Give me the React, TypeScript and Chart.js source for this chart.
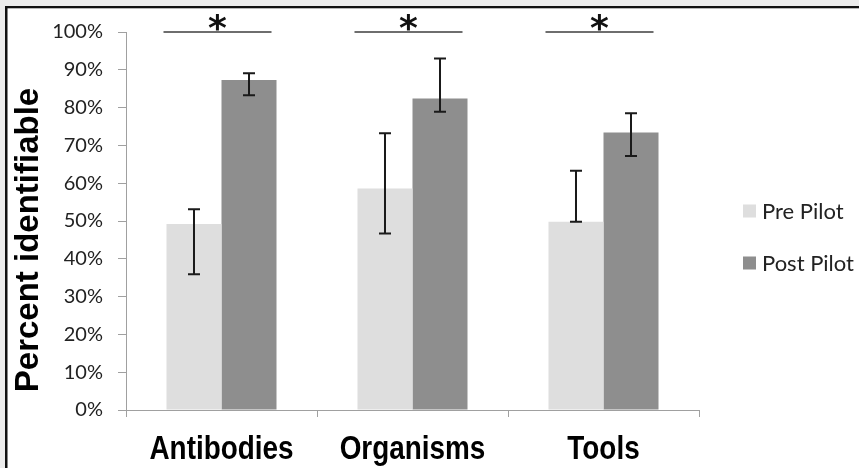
import React, { useEffect, useRef } from "react";
import { Chart, registerables } from "chart.js";

Chart.register(...registerables);

const categories = ["Antibodies", "Organisms", "Tools"];
const seriesNames = ["Pre Pilot", "Post Pilot"];
const prePilot = [49.2, 58.6, 49.8];
const postPilot = [87.3, 82.4, 73.4];
const preLow = [35.9, 46.7, 49.8];
const preHigh = [53.1, 73.2, 63.3];
const postLow = [83.3, 78.9, 67.2];
const postHigh = [89.1, 93.0, 78.5];
const significant = [true, true, true];
const yAxisTitle = "Percent identifiable";
const yTickMax = 100;
const yTickStep = 10;

const preColor = "#dedede";
const postColor = "#8e8e8e";

const errorRanges = [
  { low: preLow, high: preHigh },
  { low: postLow, high: postHigh },
];

const backgroundPlugin = {
  id: "frameBg",
  beforeDraw(chart: any) {
    const { ctx, width, height } = chart;
    ctx.save();
    ctx.fillStyle = "#ececec";
    ctx.fillRect(0, 0, width, height);
    ctx.fillStyle = "#ffffff";
    ctx.fillRect(5, 6, width - 5, height - 6);
    ctx.fillStyle = "#111111";
    ctx.fillRect(5, 6, 2.5, height - 6);
    ctx.fillRect(5, 6, width - 5, 2.3);
    ctx.restore();
  },
};

const errorBarPlugin = {
  id: "errorBars",
  afterDatasetsDraw(chart: any) {
    const { ctx } = chart;
    const yScale = chart.scales.y;
    ctx.save();
    ctx.strokeStyle = "#1a1a1a";
    ctx.lineWidth = 2;
    chart.data.datasets.forEach((_: any, di: number) => {
      const meta = chart.getDatasetMeta(di);
      const rng = errorRanges[di];
      meta.data.forEach((bar: any, i: number) => {
        const x = bar.x;
        const yl = yScale.getPixelForValue(rng.low[i]);
        const yh = yScale.getPixelForValue(rng.high[i]);
        const cap = 6;
        ctx.beginPath();
        ctx.moveTo(x, yl);
        ctx.lineTo(x, yh);
        ctx.moveTo(x - cap, yl);
        ctx.lineTo(x + cap, yl);
        ctx.moveTo(x - cap, yh);
        ctx.lineTo(x + cap, yh);
        ctx.stroke();
      });
    });
    ctx.restore();
  },
};

const significancePlugin = {
  id: "significance",
  afterDraw(chart: any) {
    const { ctx } = chart;
    const yScale = chart.scales.y;
    const m0 = chart.getDatasetMeta(0);
    const m1 = chart.getDatasetMeta(1);
    const y = yScale.getPixelForValue(yTickMax);
    ctx.save();
    significant.forEach((sig, i) => {
      if (!sig) return;
      const b0 = m0.data[i];
      const b1 = m1.data[i];
      const left = b0.x - b0.width / 2 - 3;
      const right = b1.x + b1.width / 2 - 5;
      ctx.strokeStyle = "#6e6e6e";
      ctx.lineWidth = 2;
      ctx.beginPath();
      ctx.moveTo(left, y);
      ctx.lineTo(right, y);
      ctx.stroke();
      ctx.fillStyle = "#111111";
      ctx.font = "bold 36px 'DejaVu Sans'";
      ctx.textAlign = "center";
      ctx.textBaseline = "alphabetic";
      ctx.fillText("*", (left + right) / 2, y + 8);
    });
    ctx.restore();
  },
};

const labelsPlugin = {
  id: "narrowLabels",
  afterDraw(chart: any) {
    const { ctx } = chart;
    const xScale = chart.scales.x;
    ctx.save();
    ctx.fillStyle = "#000000";
    ctx.font = "bold 34px 'Liberation Sans', Arial, sans-serif";
    ctx.textAlign = "center";
    ctx.textBaseline = "alphabetic";
    (chart.data.labels as string[]).forEach((lab, i) => {
      const x = xScale.getPixelForValue(i);
      ctx.save();
      ctx.translate(x, 459);
      ctx.scale(0.82, 1);
      ctx.fillText(lab, 0, 0);
      ctx.restore();
    });
    // y axis title
    ctx.save();
    ctx.font = "bold 33px 'Liberation Sans', Arial, sans-serif";
    ctx.translate(38, 240);
    ctx.rotate(-Math.PI / 2);
    ctx.fillText(yAxisTitle, 0, 0);
    ctx.restore();
    ctx.restore();
  },
};

const legendPlugin = {
  id: "sideLegend",
  afterDraw(chart: any) {
    const { ctx, chartArea } = chart;
    ctx.save();
    chart.data.datasets.forEach((ds: any, i: number) => {
      const x = chartArea.right + 44;
      const cy = 211 + i * 52;
      ctx.fillStyle = ds.backgroundColor;
      ctx.fillRect(x, cy - 6.5, 13, 13);
      ctx.fillStyle = "#222222";
      ctx.font = "22px Lato";
      ctx.textAlign = "left";
      ctx.textBaseline = "middle";
      ctx.fillText(ds.label, x + 19, cy + 1);
    });
    ctx.restore();
  },
};

export default function App() {
  const canvasRef = useRef<HTMLCanvasElement | null>(null);

  useEffect(() => {
    if (!canvasRef.current) return;
    const chart = new Chart(canvasRef.current, {
      type: "bar",
      data: {
        labels: categories,
        datasets: [
          {
            label: seriesNames[0],
            data: prePilot,
            backgroundColor: preColor,
            borderWidth: 0,
            barPercentage: 1,
            categoryPercentage: 0.576,
          },
          {
            label: seriesNames[1],
            data: postPilot,
            backgroundColor: postColor,
            borderWidth: 0,
            barPercentage: 1,
            categoryPercentage: 0.576,
          },
        ],
      },
      options: {
        responsive: false,
        animation: false,
        events: [],
        layout: { padding: { top: 32, right: 160, left: 0, bottom: 0 } },
        plugins: {
          legend: { display: false },
          tooltip: { enabled: false },
        },
        scales: {
          x: {
            grid: {
              display: true,
              drawOnChartArea: false,
              drawTicks: true,
              tickLength: 7,
              color: "#a0a0a0",
              offset: true,
            },
            border: { display: true, color: "#a0a0a0", width: 1 },
            ticks: { display: false },
            afterFit(scale: any) {
              scale.height = 58;
            },
          },
          y: {
            min: 0,
            max: yTickMax,
            ticks: {
              stepSize: yTickStep,
              color: "#222222",
              font: { family: "Lato", size: 20 },
              padding: 15,
              callback: (v: any) => v + "%",
            },
            grid: {
              display: true,
              drawOnChartArea: false,
              drawTicks: true,
              tickLength: 8,
              color: "#a0a0a0",
            },
            border: { display: true, color: "#a0a0a0", width: 1 },
            title: { display: false },
            afterFit(scale: any) {
              scale.width = 126;
            },
          },
        },
      },
      plugins: [backgroundPlugin, errorBarPlugin, significancePlugin, labelsPlugin, legendPlugin],
    });
    return () => chart.destroy();
  }, []);

  return (
    <div style={{ position: "absolute", left: 0, top: 0, width: 859, height: 468 }}>
      <canvas ref={canvasRef} width={859} height={468} />
    </div>
  );
}
